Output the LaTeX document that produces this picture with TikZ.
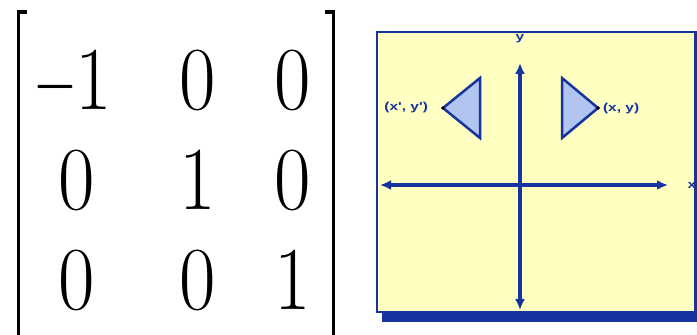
\documentclass[tikz,border=0pt]{standalone}
\usepackage{fontspec}
\newfontfamily\tagfont{Liberation Sans}
\usetikzlibrary{arrows.meta}

\begin{document}
\begin{tikzpicture}[x=1pt,y=1pt,
  entry/.style={inner sep=0pt, outer sep=0pt, xscale=0.88, font=\rmfamily\fontsize{90}{90}\selectfont},
  tag/.style={text=drawColor, inner sep=0pt, outer sep=0pt, xscale=1.35, font=\tagfont\bfseries\fontsize{11.5}{11.5}\selectfont},
  axis/.style={draw=drawColor, line width=3.5pt, {Latex[length=11pt,width=10pt]}-{Latex[length=11pt,width=10pt]}},
  flipbox/.style={draw=drawColor, line width=2.5pt, line join=miter, fill=triColor},
  bracket/.style={draw=black, line width=3.5pt, line join=miter}]
\definecolor{fillColor}{RGB}{255,255,255}
\definecolor{drawColor}{RGB}{22,52,160}
\definecolor{paperColor}{RGB}{255,255,194}
\definecolor{triColor}{RGB}{178,196,240}
\path[use as bounding box,fill=fillColor] (0,0) rectangle (697,335);

% matrix
\begin{scope}
\path[bracket] (27,323) -- (18.5,323) -- (18.5,0);
\path[bracket] (325,323) -- (333.5,323) -- (333.5,0);

\node[entry] (m11) at ( 74,255) {\scalebox{0.7}[1]{−}1};
\node[entry] (m12) at (198,255) {0};
\node[entry] (m13) at (293,255) {0};

\node[entry] (m21) at ( 77,155) {0};
\node[entry] (m22) at (198,155) {1};
\node[entry] (m23) at (293,155) {0};

\node[entry] (m31) at ( 77, 55) {0};
\node[entry] (m32) at (198, 55) {0};
\node[entry] (m33) at (293, 55) {1};
\end{scope}

% reflection panel
\begin{scope}
\path[fill=drawColor] (382,13) rectangle (697,23);
\path[draw=drawColor,fill=paperColor,line width=2.5pt] (377,23) rectangle (695.5,303);

\coordinate (top) at (520,272);
\coordinate (bottom) at (520,25);
\coordinate (left) at (380,150);
\coordinate (right) at (668,150);
\path[axis] (bottom) -- (top);
\path[axis] (left) -- (right);

\node[tag] (ylab) at (520,296) {y};
\node[tag] (xlab) at (692,150) {x};

\coordinate (ltop) at (480,257);
\coordinate (lbot) at (480,197);
\coordinate (ltip) at (443,227);
\path[flipbox] (ltop) -- (lbot) -- (ltip) -- cycle;

\coordinate (rtop) at (562,257);
\coordinate (rbot) at (562,197);
\coordinate (rtip) at (598,227);
\path[flipbox] (rtop) -- (rbot) -- (rtip) -- cycle;

\fill[black] (ltip) circle (1.8);
\fill[black] (rtip) circle (1.8);

\node[tag,anchor=east] (image) at (428,227) {(x', y')};
\node[tag,anchor=west] (object) at (603,226) {(x, y)};
\end{scope}
\end{tikzpicture}
\end{document}
